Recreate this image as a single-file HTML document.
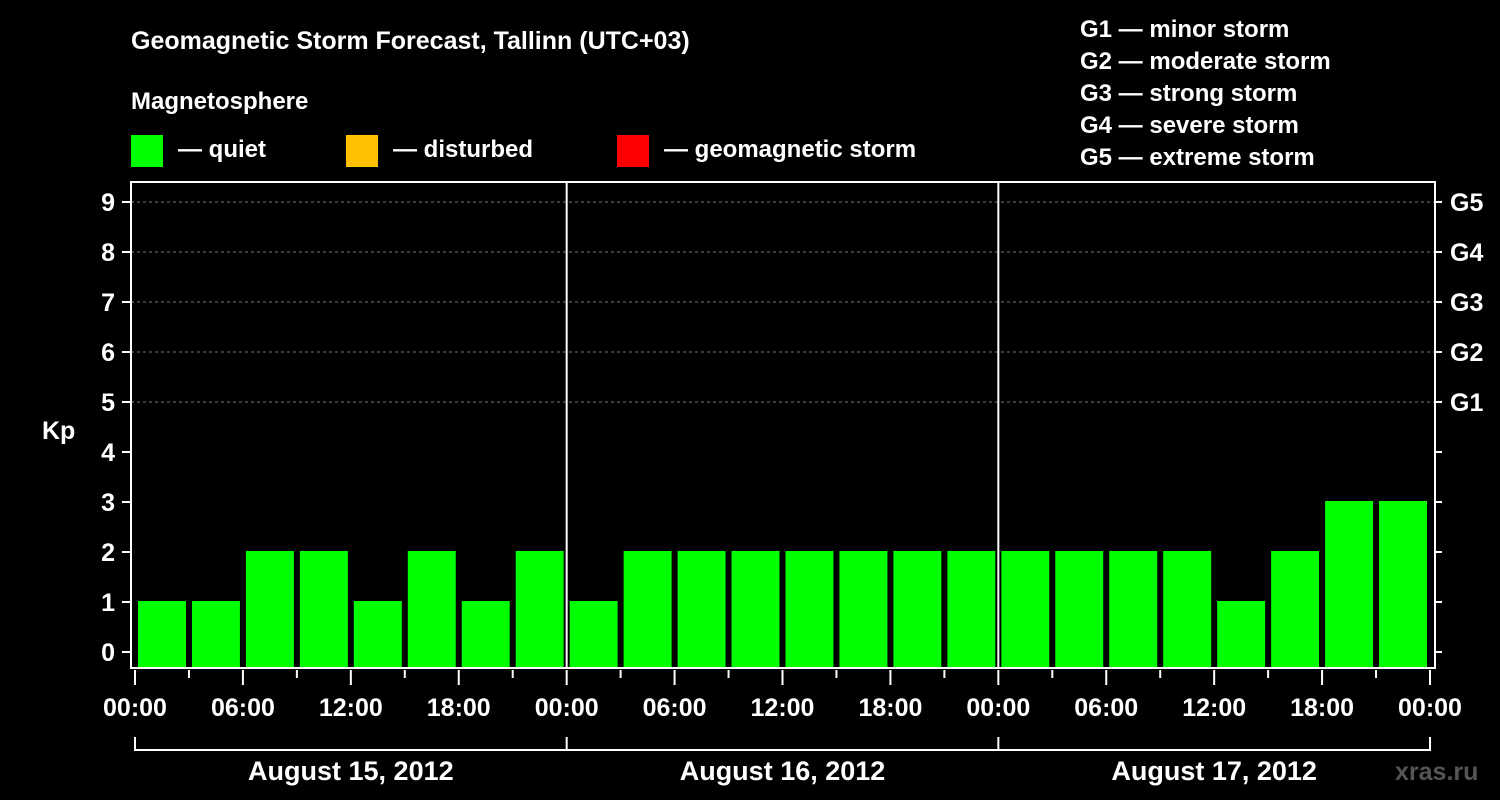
<!DOCTYPE html>
<html><head><meta charset="utf-8"><style>
html,body{margin:0;padding:0;background:#000;}
svg{display:block;font-family:"Liberation Sans",Arial,sans-serif;font-weight:bold;}
</style></head><body>
<svg width="1500" height="800" viewBox="0 0 1500 800">
<text x="131" y="49" fill="#fff" font-size="25">Geomagnetic Storm Forecast, Tallinn (UTC+03)</text>
<text x="131" y="109" fill="#fff" font-size="24">Magnetosphere</text>
<g><rect x="131" y="135" width="32" height="32" fill="#00ff00"/><text x="178" y="157" fill="#fff" font-size="24">— quiet</text></g>
<g><rect x="346" y="135" width="32" height="32" fill="#ffc000"/><text x="393" y="157" fill="#fff" font-size="24">— disturbed</text></g>
<g><rect x="617" y="135" width="32" height="32" fill="#ff0000"/><text x="664" y="157" fill="#fff" font-size="24">— geomagnetic storm</text></g>
<g fill="#fff" font-size="24">
<text x="1080" y="37">G1 — minor storm</text><text x="1080" y="69">G2 — moderate storm</text><text x="1080" y="101">G3 — strong storm</text><text x="1080" y="133">G4 — severe storm</text><text x="1080" y="165">G5 — extreme storm</text></g>
<text x="42" y="439" fill="#fff" font-size="25">Kp</text>
<g id="grid"></g><g id="bars"></g><g id="axes"></g>
<text x="1395" y="780" fill="#555" font-size="25">xras.ru</text>
</svg>
<script>
const days = ["August 15, 2012","August 16, 2012","August 17, 2012"];
const kpValues = [1,1,2,2,1,2,1,2, 1,2,2,2,2,2,2,2, 2,2,2,2,1,2,3,3];
const timeLabels = ["00:00","06:00","12:00","18:00"];
const yTicks = [0,1,2,3,4,5,6,7,8,9];
const gLabels = ["G1","G2","G3","G4","G5"];
const NS="http://www.w3.org/2000/svg";
const X0=135,X1=1430,TOP=182,BOT=668;
const slotW=(X1-X0)/kpValues.length;
const y=v=>652-v*50;
const x=i=>X0+i*slotW;
function mk(tag,attrs,parent,text){const e=document.createElementNS(NS,tag);for(const k in attrs)e.setAttribute(k,attrs[k]);if(text!==undefined)e.textContent=text;parent.appendChild(e);return e;}
const grid=document.getElementById('grid'),bars=document.getElementById('bars'),axes=document.getElementById('axes');
for(let v=5;v<=9;v++){const l=mk('line',{x1:131,x2:1435,y1:y(v),y2:y(v),stroke:'#777','stroke-dasharray':'3,3','stroke-width':1},grid);

}
kpValues.forEach((v,i)=>{const c=v>=5?'#ff0000':(v>=4?'#ffc000':'#00ff00');
const r=mk('rect',{x:x(i)+3,y:y(v)-1,width:slotW-6,height:BOT-1-(y(v)-1),fill:c},bars);

});
mk('rect',{x:131,y:TOP,width:1304,height:BOT-TOP,fill:'none',stroke:'#fff','stroke-width':2},axes);
const dayW=(X1-X0)/days.length;
for(let d=1;d<days.length;d++)mk('line',{x1:X0+d*dayW,x2:X0+d*dayW,y1:TOP,y2:BOT,stroke:'#fff','stroke-width':2},axes);
yTicks.forEach(v=>{mk('line',{x1:122,x2:131,y1:y(v),y2:y(v),stroke:'#fff','stroke-width':2},axes);
mk('line',{x1:1435,x2:1442,y1:y(v),y2:y(v),stroke:'#fff','stroke-width':2},axes);
const t=mk('text',{x:115,y:y(v)+9,fill:'#fff','font-size':25,'text-anchor':'end'},axes,String(v));

});
gLabels.forEach((g,i)=>{const t=mk('text',{x:1450,y:y(5+i)+9,fill:'#fff','font-size':25},axes,g);

});
for(let i=0;i<=kpValues.length;i++){const major=i%2===0;mk('line',{x1:x(i),x2:x(i),y1:BOT+2,y2:major?685:678,stroke:'#fff','stroke-width':2},axes);
if(major){const t=mk('text',{x:x(i),y:716,fill:'#fff','font-size':25,'text-anchor':'middle'},axes,timeLabels[(i/2)%4]);

}}
mk('path',{d:`M${X0} 737 V750 H${X1} V737`,fill:'none',stroke:'#fff','stroke-width':2},axes);
days.forEach((d,i)=>{mk('line',{x1:X0+i*dayW,x2:X0+i*dayW,y1:737,y2:750,stroke:'#fff','stroke-width':2},axes);
const t=mk('text',{x:X0+(i+0.5)*dayW,y:780,fill:'#fff','font-size':27,'text-anchor':'middle'},axes,d);

});
</script>
</body></html>
